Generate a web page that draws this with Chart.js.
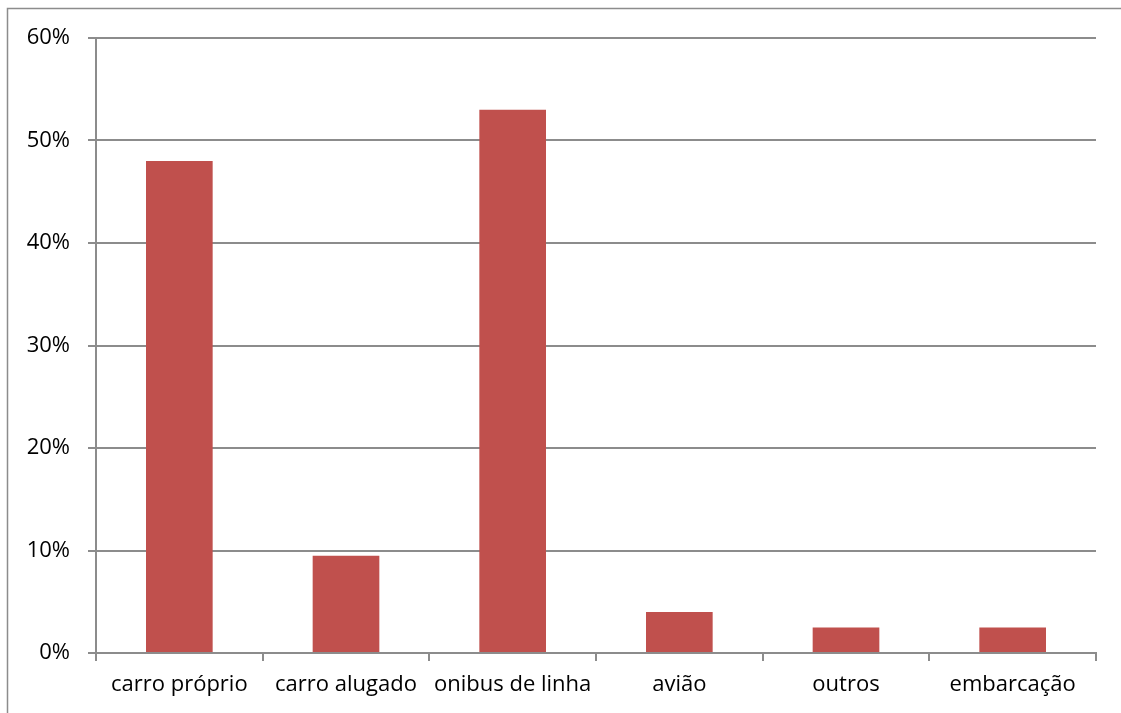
<!DOCTYPE html>
<html>
<head>
<meta charset="utf-8">
<script src="https://cdn.jsdelivr.net/npm/chart.js@4/dist/chart.umd.min.js"></script>
<style>
  html, body { margin: 0; padding: 0; background: #fff; }
  #wrap { width: 1121px; height: 713px; position: relative; }
</style>
</head>
<body>
<div id="wrap"><canvas id="barChart" width="1121" height="713"></canvas></div>
<script>
// values, in percent
const categories = ["carro próprio", "carro alugado", "onibus de linha", "avião", "outros", "embarcação"];
const shares = [48, 9.5, 53, 4, 2.5, 2.5];
const yMax = 60;
const yStep = 10;

const gridColor = "#8c8c8c";
const labelFont = { family: "Open Sans", size: 22 };

// grey frame round the whole chart, like the spreadsheet chart border
const frame = {
  id: "frame",
  beforeDraw(chart) {
    const ctx = chart.ctx;
    ctx.save();
    ctx.strokeStyle = "#8c8c8c";
    ctx.lineWidth = 1.5;
    ctx.strokeRect(7.5, 8.5, 1130, 720);
    ctx.restore();
  }
};

const ctx = document.getElementById("barChart").getContext("2d");
new Chart(ctx, {
  type: "bar",
  data: {
    labels: categories,
    datasets: [{
      data: shares,
      backgroundColor: "#C0504D",
      borderWidth: 0,
      barPercentage: 0.4,
      categoryPercentage: 1
    }]
  },
  options: {
    responsive: false,
    animation: false,
    layout: { padding: { top: 38, right: 25, left: 0, bottom: 0 } },
    plugins: { legend: { display: false }, tooltip: { enabled: false } },
    scales: {
      x: {
        grid: { offset: true, drawOnChartArea: false, drawTicks: true, tickLength: 8, color: gridColor, lineWidth: 2 },
        border: { color: gridColor, width: 2 },
        ticks: { color: "#000", font: labelFont, padding: 11, maxRotation: 0, autoSkip: false },
        afterFit(scale) { scale.height = 60; }
      },
      y: {
        min: 0,
        max: yMax,
        ticks: {
          stepSize: yStep,
          color: "#000",
          font: labelFont,
          padding: 18,
          callback: (v) => v + "%"
        },
        grid: { color: gridColor, tickLength: 8, drawTicks: true, lineWidth: 2 },
        border: { color: gridColor, width: 2 },
        afterFit(scale) { scale.width = 96; }
      }
    }
  },
  plugins: [frame]
});
</script>
</body>
</html>
